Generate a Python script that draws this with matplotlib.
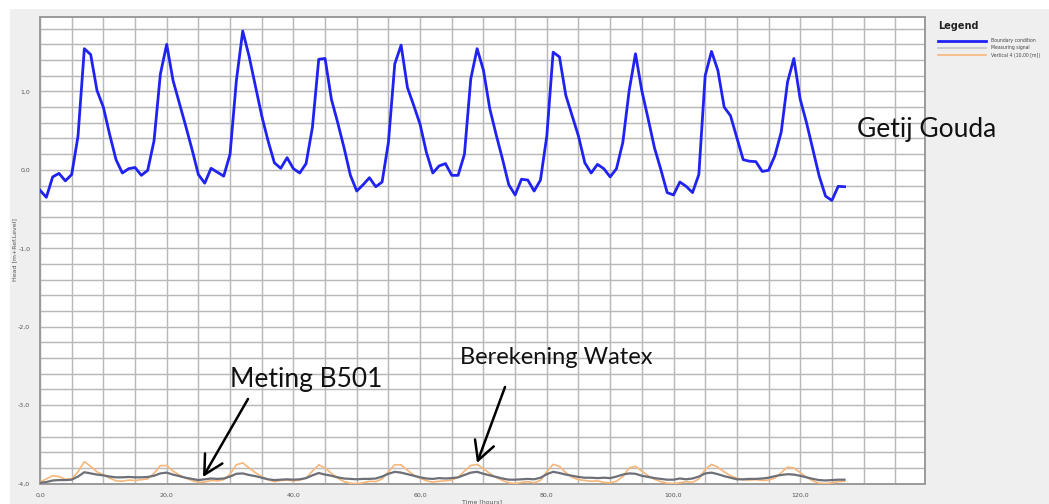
import matplotlib
matplotlib.use("Agg")
import matplotlib.pyplot as plt
from matplotlib.lines import Line2D
from matplotlib.patches import Rectangle
from matplotlib.ticker import MultipleLocator, FuncFormatter

W, H = 1049, 504

# ---------------- data (hourly values) ----------------
hours = list(range(128))

boundary_condition = [
    -0.26, -0.35, -0.09, -0.045, -0.14, -0.06, 0.43, 1.545, 1.47, 1.01,
    0.80, 0.45, 0.13, -0.04, 0.015, 0.03, -0.07, -0.006, 0.37, 1.22,
    1.60, 1.14, 0.85, 0.56, 0.26, -0.06, -0.17, 0.02, -0.03, -0.08,
    0.20, 1.14, 1.77, 1.45, 1.07, 0.69, 0.37, 0.09, 0.02, 0.155,
    0.015, -0.04, 0.08, 0.54, 1.41, 1.42, 0.90, 0.60, 0.28, -0.07,
    -0.27, -0.19, -0.10, -0.215, -0.155, 0.35, 1.35, 1.59, 1.05, 0.82,
    0.58, 0.22, -0.04, 0.05, 0.08, -0.07, -0.07, 0.20, 1.16, 1.545,
    1.27, 0.78, 0.45, 0.14, -0.19, -0.32, -0.12, -0.13, -0.27, -0.13,
    0.43, 1.50, 1.44, 0.95, 0.69, 0.43, 0.09, -0.04, 0.07, 0.015,
    -0.09, 0.015, 0.35, 1.01, 1.48, 1.01, 0.65, 0.28, 0.005, -0.29,
    -0.32, -0.155, -0.21, -0.29, -0.06, 1.20, 1.51, 1.27, 0.80, 0.69,
    0.41, 0.13, 0.11, 0.105, -0.02, -0.006, 0.18, 0.48, 1.12, 1.42,
    0.90, 0.60, 0.26, -0.08, -0.335, -0.39, -0.21, -0.215,
]

measuring_signal = [
    -3.99, -3.98, -3.96, -3.955, -3.955, -3.95, -3.91, -3.855, -3.87, -3.885,
    -3.895, -3.91, -3.92, -3.92, -3.915, -3.92, -3.92, -3.915, -3.90, -3.87,
    -3.86, -3.885, -3.905, -3.925, -3.94, -3.955, -3.945, -3.935, -3.94, -3.935,
    -3.91, -3.875, -3.87, -3.89, -3.905, -3.925, -3.945, -3.955, -3.95, -3.945,
    -3.95, -3.945, -3.93, -3.895, -3.865, -3.885, -3.90, -3.92, -3.935, -3.94,
    -3.945, -3.94, -3.94, -3.935, -3.91, -3.875, -3.85, -3.86, -3.88, -3.90,
    -3.92, -3.935, -3.94, -3.93, -3.935, -3.93, -3.92, -3.89, -3.86, -3.85,
    -3.875, -3.895, -3.915, -3.935, -3.95, -3.95, -3.945, -3.94, -3.945, -3.925,
    -3.88, -3.85, -3.865, -3.885, -3.90, -3.915, -3.925, -3.925, -3.93, -3.925,
    -3.93, -3.91, -3.885, -3.87, -3.875, -3.90, -3.915, -3.93, -3.94, -3.95,
    -3.95, -3.935, -3.945, -3.935, -3.91, -3.87, -3.86, -3.88, -3.905, -3.925,
    -3.945, -3.945, -3.94, -3.94, -3.935, -3.925, -3.905, -3.89, -3.88, -3.885,
    -3.90, -3.92, -3.94, -3.955, -3.96, -3.955, -3.95, -3.95,
]

vertical_4 = [
    -3.98, -3.94, -3.90, -3.91, -3.945, -3.94, -3.85, -3.72, -3.78, -3.85,
    -3.89, -3.93, -3.965, -3.97, -3.955, -3.96, -3.95, -3.94, -3.87, -3.77,
    -3.77, -3.84, -3.89, -3.93, -3.96, -3.985, -3.98, -3.96, -3.965, -3.95,
    -3.88, -3.76, -3.735, -3.80, -3.86, -3.91, -3.95, -3.975, -3.96, -3.955,
    -3.965, -3.955, -3.93, -3.84, -3.76, -3.80, -3.87, -3.93, -3.975, -3.995,
    -4.00, -3.99, -3.97, -3.975, -3.94, -3.85, -3.76, -3.76, -3.83, -3.89,
    -3.93, -3.965, -3.98, -3.97, -3.965, -3.955, -3.92, -3.84, -3.77, -3.755,
    -3.81, -3.87, -3.92, -3.96, -3.99, -4.00, -3.985, -3.975, -3.99, -3.96,
    -3.85, -3.755, -3.78, -3.86, -3.92, -3.95, -3.96, -3.97, -3.965, -3.985,
    -3.99, -3.97, -3.91, -3.80, -3.78, -3.84, -3.90, -3.945, -3.975, -3.995,
    -4.00, -3.99, -3.975, -3.985, -3.94, -3.82, -3.755, -3.79, -3.85, -3.90,
    -3.93, -3.95, -3.955, -3.95, -3.96, -3.955, -3.93, -3.86, -3.79, -3.80,
    -3.86, -3.92, -3.965, -3.995, -4.00, -3.99, -3.975, -3.97,
]

legend_labels = ["Boundary condition", "Measuring signal", "Vertical 4 (10,00 [m])"]
x_ticks = [0, 20, 40, 60, 80, 100, 120]
y_ticks = [-4, -3, -2, -1, 0, 1]

# ---------------- styling ----------------
BLUE = "#1f22f0"
GREY = "#6e7078"
ORANGE = "#f7b77a"
GRID = "#b9b9b9"
PANEL = "#efefef"


def fx(px):
    return px / W


def fy(py):
    return 1 - py / H


fig = plt.figure(figsize=(W / 100, H / 100), dpi=100)
fig.patch.set_facecolor("white")
fig.patches.append(Rectangle((fx(10), 0), 1, fy(9), transform=fig.transFigure,
                             facecolor=PANEL, edgecolor="none", zorder=-10))

ax = fig.add_axes([fx(40), fy(484), fx(925) - fx(40), fy(17.3) - fy(484)])
ax.set_zorder(1)
ax.set_facecolor("white")
ax.set_xlim(0, 139.7)
ax.set_ylim(-4.005, 1.945)

ax.plot(hours, vertical_4, color=ORANGE, lw=1.2, zorder=3)
ax.plot(hours, measuring_signal, color=GREY, lw=1.6, zorder=4)
ax.plot(hours, boundary_condition, color=BLUE, lw=2.0, zorder=5)

ax.set_xticks(x_ticks)
ax.set_yticks(y_ticks)
ax.xaxis.set_minor_locator(MultipleLocator(5))
ax.yaxis.set_minor_locator(MultipleLocator(0.2))
fmt = FuncFormatter(lambda v, p: f"{v:.1f}".replace(".", ","))
ax.xaxis.set_major_formatter(fmt)
ax.yaxis.set_major_formatter(fmt)
ax.grid(True, which="both", color=GRID, lw=1.05, zorder=1)
ax.set_axisbelow(True)
ax.tick_params(which="both", length=0, labelsize=4.5, labelcolor="#555555")
ax.tick_params(axis="y", pad=7)
ax.tick_params(axis="x", pad=6)
for s in ax.spines.values():
    s.set_color("#9a9a9a")
    s.set_linewidth(1.4)

# axis titles
fig.text(fx(15), fy(250), "Head [m+Ref.Level]", rotation=90, fontsize=4.5,
         color="#555555", ha="center", va="center")
fig.text(fx(482), fy(502), "Time [hours]", fontsize=4.5, color="#555555",
         ha="center", va="center")

# legend (drawn by hand, as in the original side panel)
fig.text(fx(938), fy(26), "Legend", fontsize=7, fontweight="bold",
         color="#222222", ha="left", va="center")
leg_colors = [BLUE, "#c4c4c4", ORANGE]
leg_y = [40.7, 47.7, 55.0]
leg_lw = [2.0, 1.2, 1.2]
for lab, c, yy, lw in zip(legend_labels, leg_colors, leg_y, leg_lw):
    fig.add_artist(Line2D([fx(938), fx(986)], [fy(yy), fy(yy)],
                          transform=fig.transFigure, color=c, lw=lw))
    fig.text(fx(991), fy(yy), lab, fontsize=3.3, color="#444444",
             ha="left", va="center")

# annotations
big = dict(family=["Lato", "DejaVu Sans"], color="#111111", zorder=10)
fig.text(fx(857), fy(137), "Getij Gouda", ha="left", va="baseline",
         fontsize=19, **big)
fig.text(fx(230), fy(387), "Meting B501", ha="left", va="baseline",
         fontsize=19, **big)
fig.text(fx(460), fy(364), "Berekening Watex", ha="left", va="baseline",
         fontsize=17, **big)

arrow = dict(arrowstyle="->,head_length=0.75,head_width=0.4", color="black",
             lw=1.8, mutation_scale=18, shrinkA=0, shrinkB=0)
ax.annotate("", xy=(203, H - 477), xycoords="figure pixels",
            xytext=(248, H - 399), textcoords="figure pixels", arrowprops=arrow,
            annotation_clip=False)
ax.annotate("", xy=(477, H - 463), xycoords="figure pixels",
            xytext=(505, H - 387), textcoords="figure pixels", arrowprops=arrow,
            annotation_clip=False)

fig.savefig("out.png", dpi=100)
